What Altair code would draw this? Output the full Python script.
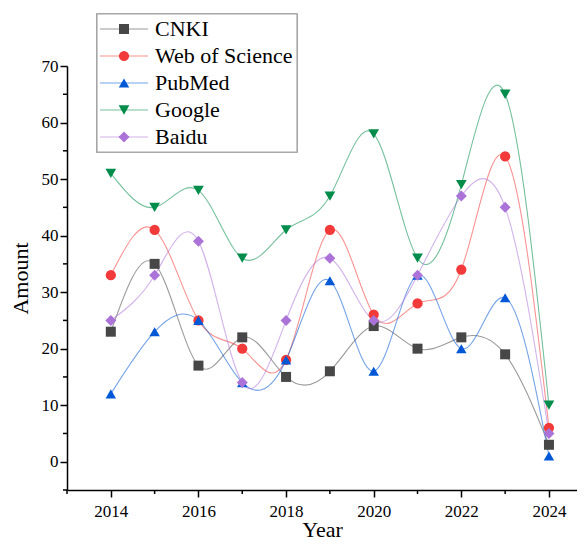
import altair as alt
import pandas as pd

years = list(range(2014, 2025))
series = ["CNKI", "Web of Science", "PubMed", "Google", "Baidu"]
cnki = [23, 35, 17, 22, 15, 16, 24, 20, 22, 19, 3]
wos = [33, 41, 25, 20, 18, 41, 26, 28, 34, 54, 6]
pubmed = [12, 23, 25, 14, 18, 32, 16, 33, 20, 29, 1]
google = [51, 45, 48, 36, 41, 47, 58, 36, 49, 65, 10]
baidu = [25, 33, 39, 14, 25, 36, 25, 33, 47, 45, 5]

x_major = [2014, 2016, 2018, 2020, 2022, 2024]
x_minor = [2013, 2015, 2017, 2019, 2021, 2023]
y_major = [0, 10, 20, 30, 40, 50, 60, 70]
y_minor = [-5, 5, 15, 25, 35, 45, 55, 65]

colors = ["#474747", "#f23a3a", "#0058d6", "#008c4b", "#ab72d8"]
shapes = ["square", "circle", "triangle-up", "triangle-down", "diamond"]
sizes = [100, 120, 170, 170, 160]

values = [cnki, wos, pubmed, google, baidu]
rows = []
for s, vals in zip(series, values):
    for yr, v in zip(years, vals):
        rows.append({"series": s, "year": yr, "value": v})
df = pd.DataFrame(rows)
leg_df = pd.DataFrame({"series": series})
xminor_df = pd.DataFrame({"year": x_minor})
yminor_df = pd.DataFrame({"value": y_minor})

FONT = "Liberation Serif"
W, H = 510, 424

xscale = alt.Scale(domain=[2013, 2024.64], nice=False, zero=False)
yscale = alt.Scale(domain=[-5, 70], nice=False, zero=False)
cscale = alt.Scale(domain=series, range=colors)
sscale = alt.Scale(domain=series, range=shapes)
zscale = alt.Scale(domain=series, range=sizes)

x_axis = alt.Axis(values=x_major, format="d", title="Year", tickSize=7,
                  labelPadding=6, titlePadding=0)
y_axis = alt.Axis(values=y_major, title="Amount", tickSize=7,
                  labelPadding=2, titlePadding=9)

lines = alt.Chart(df).mark_line(interpolate="natural", strokeWidth=1.1, opacity=0.55).encode(
    x=alt.X("year:Q", scale=xscale, axis=x_axis),
    y=alt.Y("value:Q", scale=yscale, axis=y_axis),
    color=alt.Color("series:N", scale=cscale, legend=None),
    detail="series:N",
)

points = alt.Chart(df).mark_point(filled=True, opacity=1).encode(
    x=alt.X("year:Q", scale=xscale, axis=x_axis),
    y=alt.Y("value:Q", scale=yscale, axis=y_axis),
    color=alt.Color("series:N", scale=cscale, legend=None),
    shape=alt.Shape("series:N", scale=sscale, legend=None),
    size=alt.Size("series:N", scale=zscale, legend=None),
)

xminor = alt.Chart(xminor_df).mark_rule(color="black", strokeWidth=1.5).encode(
    x=alt.X("year:Q", scale=xscale, axis=x_axis),
    y=alt.value(H),
    y2=alt.value(H + 4),
)
yminor = alt.Chart(yminor_df).mark_rule(color="black", strokeWidth=1.5).encode(
    y=alt.Y("value:Q", scale=yscale, axis=y_axis),
    x=alt.value(-4),
    x2=alt.value(0),
)

main = alt.layer(lines, points, xminor, yminor)

legy = alt.Y("series:N", scale=alt.Scale(type="point", domain=series, range=[-37, 71], padding=0), axis=None)

box = alt.Chart(leg_df).mark_rect(fill="white", stroke="#a6a6a6", strokeWidth=1.2).encode(
    x=alt.value(30), x2=alt.value(230), y=alt.value(-52), y2=alt.value(86)
)
leg_lines = alt.Chart(leg_df).mark_rule(strokeWidth=1.1, opacity=0.55).encode(
    x=alt.value(33), x2=alt.value(81), y=legy,
    color=alt.Color("series:N", scale=cscale, legend=None),
)
leg_pts = alt.Chart(leg_df).mark_point(filled=True, opacity=1).encode(
    x=alt.value(57), y=legy,
    color=alt.Color("series:N", scale=cscale, legend=None),
    shape=alt.Shape("series:N", scale=sscale, legend=None),
    size=alt.Size("series:N", scale=zscale, legend=None),
)
leg_text = alt.Chart(leg_df).mark_text(align="left", baseline="middle", font=FONT,
                                        fontSize=22, color="black").encode(
    x=alt.value(88), y=legy, text="series:N"
)
legend = alt.layer(box, leg_lines, leg_pts, leg_text)

chart = alt.layer(main, legend).resolve_scale(y="independent").properties(
    width=W, height=H,
    autosize=alt.AutoSizeParams(type="none"),
    padding={"left": 59, "top": 58, "right": 0, "bottom": 50},
).configure_view(stroke=None).configure_axis(
    grid=False,
    domainColor="black", domainWidth=1.5,
    tickColor="black", tickWidth=1.5,
    labelFont=FONT, labelFontSize=17, labelColor="black",
    titleFont=FONT, titleFontSize=22, titleFontWeight="normal", titleColor="black",
)

chart.save("out.html", embed_options={"renderer": "svg", "actions": False})
